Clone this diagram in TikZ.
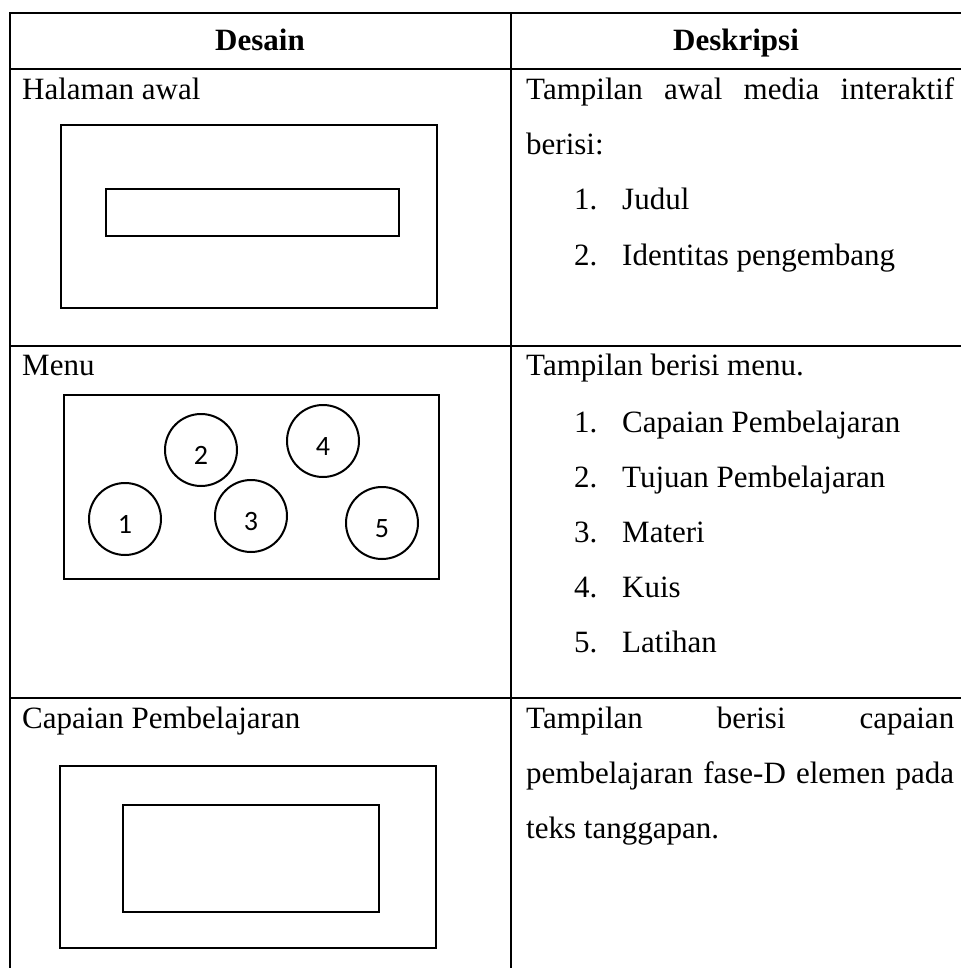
\documentclass[tikz,border=0pt]{standalone}
\usepackage{fontspec}
\setmainfont{Liberation Serif}
\newfontfamily\numfont{Carlito}
\usetikzlibrary{positioning}

\begin{document}
\begin{tikzpicture}[x=1pt,y=-1pt,font=\fontsize{31}{37}\selectfont,
  rule/.style={line width=1.7pt},
  frame/.style={draw,line width=2.2pt,inner sep=0pt},
  btn/.style={circle,draw,line width=2pt,minimum size=72pt,inner sep=0pt,text height=28pt,text depth=0pt,
    font=\numfont\fontsize{28}{32}\selectfont},
  txt/.style={anchor=base west,inner sep=0pt}]
\useasboundingbox (0,0) rectangle (961,968);
% table rules
\draw[rule] (10,968) -- (10,13) -- (961,13);
\draw[rule] (511,13) -- (511,968);
\foreach \y in {69,346,698} \draw[rule] (10,\y) -- (961,\y);
% header
\node[anchor=base,font=\fontsize{31}{37}\selectfont\bfseries] (hd) at (260,51) {Desain};
\node[anchor=base,font=\fontsize{31}{37}\selectfont\bfseries] (hk) at (736,51) {Deskripsi};
% halaman awal
\node[txt] (l1) at (22,100) {Halaman awal};
\node[frame,minimum width=376pt,minimum height=183pt] (h1o) at (249,216.5) {};
\node[frame,minimum width=293pt,minimum height=47pt] (h1i) at (252.5,212.5) {};
\node[txt] (r1a) at (526,100) {\makebox[428pt][s]{Tampilan awal media interaktif}};
\node[txt] (r1b) at (526,155) {berisi:};
\foreach \n/\t/\y in {1/Judul/210,2/Identitas pengembang/265}{
  \node[txt] (a\n) at (574,\y) {\n.}; \node[txt] (at\n) at (622,\y) {\t};}
% menu
\node[txt] (l2) at (22,375) {Menu};
\node[frame,minimum width=375pt,minimum height=184pt] (m2o) at (251.5,487) {};
\node[btn] (b1) at (125,519) {1}; \node[btn] (b2) at (201,450) {2};
\node[btn] (b3) at (251,516) {3}; \node[btn] (b4) at (323,441) {4};
\node[btn] (b5) at (382,523) {5};
\node[txt] (r2a) at (526,375) {Tampilan berisi menu.};
\foreach \n/\t/\y in {1/Capaian Pembelajaran/432,2/Tujuan Pembelajaran/487,3/Materi/542,4/Kuis/597,5/Latihan/652}{
  \node[txt] (m\n) at (574,\y) {\n.}; \node[txt] (mt\n) at (622,\y) {\t};}
% capaian pembelajaran
\node[txt] (l3) at (22,728) {Capaian Pembelajaran};
\node[frame,minimum width=376pt,minimum height=182pt] (c3o) at (248,857) {};
\node[frame,minimum width=256pt,minimum height=107pt] (c3i) at (251,858.5) {};
\node[txt] (r3a) at (526,728) {\makebox[428pt][s]{Tampilan berisi capaian}};
\node[txt] (r3b) at (526,783) {\makebox[428pt][s]{pembelajaran fase-D elemen pada}};
\node[txt] (r3c) at (526,838) {teks tanggapan.};
\end{tikzpicture}
\end{document}
